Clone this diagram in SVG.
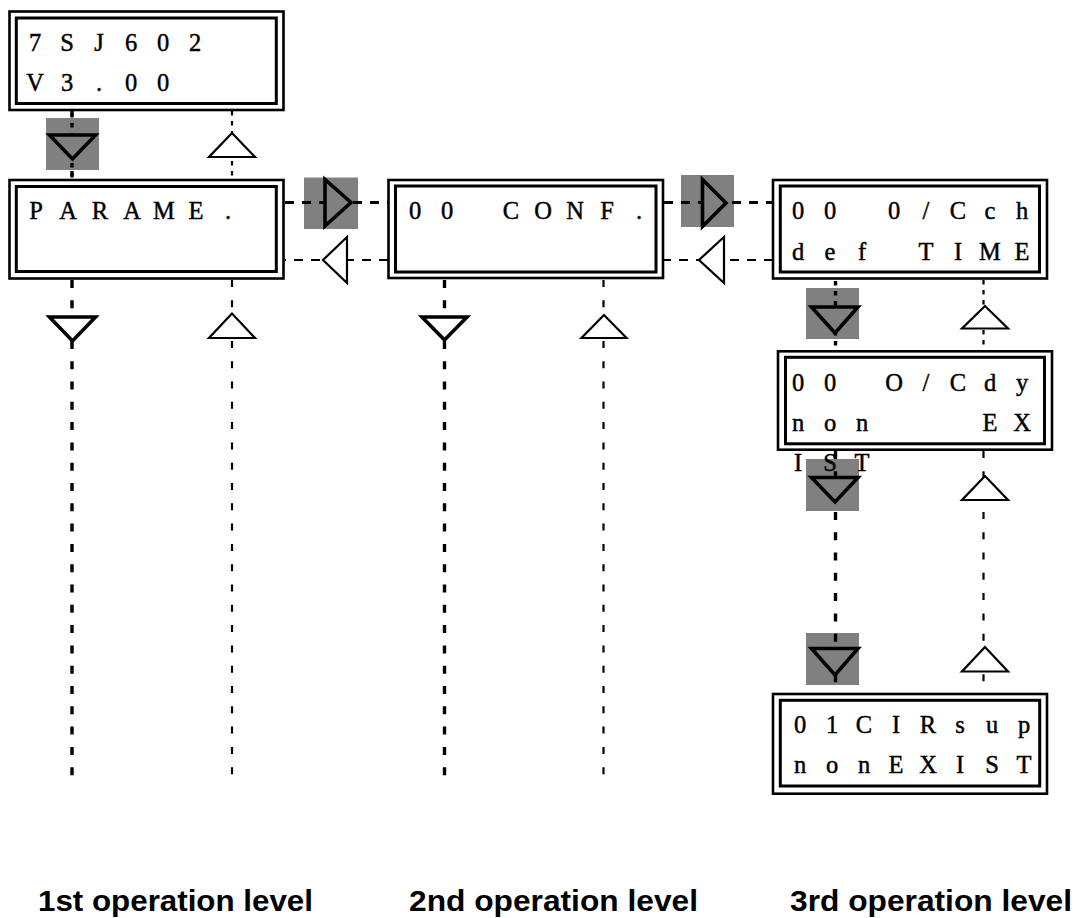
<svg xmlns="http://www.w3.org/2000/svg" width="1077" height="918" viewBox="0 0 1077 918">
<style>
.o{fill:#fff;stroke:#000;stroke-width:2.6}
.i{fill:none;stroke:#000;stroke-width:3}
.t{font-family:"Liberation Serif","Times New Roman",serif;font-size:24.5px;fill:#000;stroke:#000;stroke-width:0.45;text-anchor:middle;white-space:pre}
.dn{fill:none;stroke:#000;stroke-width:3.4;stroke-dasharray:8 12.3}
.up{fill:none;stroke:#000;stroke-width:2.2;stroke-dasharray:7 13.3}
.dns{fill:none;stroke:#000;stroke-width:3.4;stroke-dasharray:4.5 5.5}
.ups{fill:none;stroke:#000;stroke-width:2.2;stroke-dasharray:4.5 5.5}
.hf{fill:none;stroke:#000;stroke-width:3;stroke-dasharray:9 8}
.hb{fill:none;stroke:#000;stroke-width:2;stroke-dasharray:9 8}
.g{fill:#808080}
.tg{fill:#808080;stroke:#000;stroke-width:3.6;stroke-linejoin:miter}
.tw{fill:#fff;stroke:#000;stroke-width:3.6;stroke-linejoin:miter}
.tu{fill:#fff;stroke:#000;stroke-width:2.2;stroke-linejoin:miter}
.lbl{font-family:"Liberation Sans",Arial,Helvetica,sans-serif;font-size:30px;font-weight:bold;fill:#000}
</style>
<g id="connectors">
  <line class="dns" x1="72" y1="111" x2="72" y2="180"/>
  <line class="ups" x1="232" y1="111" x2="232" y2="180"/>
  <line class="dn" x1="72" y1="280" x2="72" y2="781"/>
  <line class="up" x1="232" y1="280" x2="232" y2="781"/>
  <line class="dn" x1="444.5" y1="280" x2="444.5" y2="781"/>
  <line class="up" x1="603.5" y1="280" x2="603.5" y2="781"/>
  <line class="ups" x1="983.5" y1="280" x2="983.5" y2="351"/>
  <line class="up" x1="983.5" y1="451" x2="983.5" y2="694"/>
  <line class="hb" x1="388" y1="260" x2="285" y2="260"/>
  <line class="hb" x1="773" y1="260" x2="664" y2="260"/>
  <rect class="g" x="46" y="118" width="53" height="52"/>
  <rect class="g" x="304" y="177.5" width="54" height="51.5"/>
  <rect class="g" x="681" y="175" width="53" height="52"/>
  <rect class="g" x="806" y="288" width="53" height="51"/>
  <rect class="g" x="806" y="459" width="53" height="52"/>
  <rect class="g" x="806" y="633" width="53" height="52"/>
  <line class="dns" x1="72" y1="113" x2="72" y2="180"/>
  <line class="dns" x1="835.5" y1="281" x2="835.5" y2="351"/>
  <line class="dn" x1="835.5" y1="451" x2="835.5" y2="694"/>
  <line class="hf" x1="285" y1="202.5" x2="388" y2="202.5"/>
  <line class="hf" x1="664" y1="202.5" x2="773" y2="202.5"/>
  <polygon class="tg" points="49.5,135 95.5,135 72.5,159"/>
  <polygon class="tu" points="232,133 209,157 255,157"/>
  <polygon class="tw" points="49.5,317 95.5,317 72.5,341"/>
  <polygon class="tu" points="232,313.5 209,338 255,338"/>
  <polygon class="tw" points="422,317 467,317 444.5,340"/>
  <polygon class="tu" points="604,315 581.5,338 626.5,338"/>
  <polygon class="tg" points="325,179.5 325,226 351,202.5"/>
  <polygon class="tu" points="323,260 347,237 347,283"/>
  <polygon class="tg" points="702.5,179.5 702.5,226.5 726,203"/>
  <polygon class="tu" points="699,260 724,237 724,283"/>
  <polygon class="tg" points="811.5,307 858,307 835,333"/>
  <polygon class="tu" points="985,306 962,328.5 1008,328.5"/>
  <polygon class="tg" points="811.5,477.5 858,477.5 835,502"/>
  <polygon class="tu" points="985,476 962,500 1008,500"/>
  <polygon class="tg" points="811.5,648.5 858,648.5 835,675"/>
  <polygon class="tu" points="985,647 962,671.5 1008,671.5"/>
</g>
<g id="node-7SJ602">
  <rect class="o" x="9.5" y="11.5" width="274" height="98.5"/>
  <rect class="i" x="16.3" y="18" width="260" height="85.5"/>
  <text class="t" x="35 67 99 131 163 195" y="51">7SJ602</text>
  <text class="t" x="35 67 99 131 163" y="91">V3.00</text>
</g>
<g id="node-PARAME">
  <rect class="o" x="9.5" y="180" width="274" height="98.5"/>
  <rect class="i" x="16.3" y="186.5" width="260" height="85"/>
  <text class="t" x="36 68 100 132 164 196 228" y="219">PARAME.</text>
</g>
<g id="node-CONF">
  <rect class="o" x="388.5" y="180" width="274.5" height="98"/>
  <rect class="i" x="395.5" y="186" width="260.5" height="86"/>
  <text class="t" x="415 447 479 511 543 575 607 639" y="219">00 CONF.</text>
</g>
<g id="node-OCch">
  <rect class="o" x="773" y="180" width="274" height="98.5"/>
  <rect class="i" x="780.3" y="186" width="259.2" height="86"/>
  <text class="t" x="798 830 862 894 926 958 990 1022" y="219">00 0/Cch</text>
  <text class="t" x="798 830 862 894 926 958 990 1022" y="260">def TIME</text>
</g>
<g id="node-OCdy">
  <rect class="o" x="778" y="351.3" width="274" height="98.4"/>
  <rect class="i" x="785.5" y="357.3" width="259" height="86.5"/>
  <text class="t" x="798 830 862 894 926 958 990 1022" y="391">00 O/Cdy</text>
  <text class="t" x="798 830 862 894 926 958 990 1022" y="431">non   EX</text>
  <text class="t" x="798 830 862" y="471">IST</text>
</g>
<g id="node-CIRsup">
  <rect class="o" x="773" y="694" width="274" height="99.7"/>
  <rect class="i" x="780.3" y="700.3" width="259.4" height="85.7"/>
  <text class="t" x="800 832 864 896 928 960 992 1024" y="733">01CIRsup</text>
  <text class="t" x="800 832 864 896 928 960 992 1024" y="773">nonEXIST</text>
</g>
<g id="labels">
  <text class="lbl" x="38" y="911" textLength="275" lengthAdjust="spacingAndGlyphs">1st operation level</text>
  <text class="lbl" x="409" y="911" textLength="289" lengthAdjust="spacingAndGlyphs">2nd operation level</text>
  <text class="lbl" x="790" y="911" textLength="282" lengthAdjust="spacingAndGlyphs">3rd operation level</text>
</g>
</svg>
